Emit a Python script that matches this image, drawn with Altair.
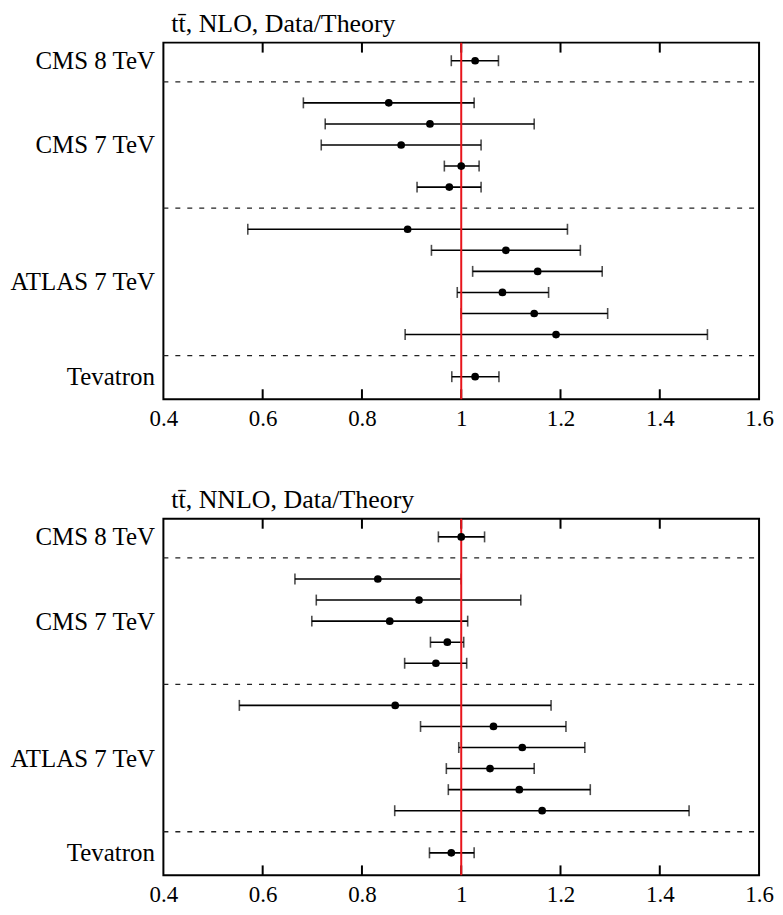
import altair as alt
import pandas as pd

# ---------------- data ----------------
row_pos = [0, 2, 3, 4, 5, 6, 8, 9, 10, 11, 12, 13, 15]
experiment = ["CMS 8 TeV"] + ["CMS 7 TeV"] * 5 + ["ATLAS 7 TeV"] * 6 + ["Tevatron"]

nlo_center = [1.028, 0.854, 0.937, 0.879, 1.000, 0.976, 0.892, 1.090, 1.154, 1.083, 1.147, 1.191, 1.028]
nlo_low = [0.980, 0.682, 0.726, 0.718, 0.966, 0.911, 0.570, 0.940, 1.023, 0.992, 1.000, 0.887, 0.981]
nlo_high = [1.075, 1.026, 1.147, 1.040, 1.036, 1.040, 1.214, 1.240, 1.284, 1.176, 1.295, 1.496, 1.076]

nnlo_center = [1.000, 0.832, 0.915, 0.856, 0.972, 0.949, 0.867, 1.065, 1.123, 1.058, 1.117, 1.163, 0.980]
nnlo_low = [0.954, 0.665, 0.708, 0.699, 0.938, 0.886, 0.553, 0.918, 0.995, 0.970, 0.974, 0.866, 0.936]
nnlo_high = [1.047, 1.000, 1.120, 1.013, 1.005, 1.011, 1.181, 1.211, 1.249, 1.147, 1.260, 1.459, 1.026]

separator_pos = [1, 7, 14]
group_label_pos = [0, 4, 10.5, 15]
group_label_text = ["CMS 8 TeV", "CMS 7 TeV", "ATLAS 7 TeV", "Tevatron"]
x_label_values = [0.4, 0.6, 0.8, 1.0, 1.2, 1.4, 1.6]
inner_tick_values = [0.6, 0.8, 1.0, 1.2, 1.4]
reference_value = [1.0]

titles = ["tt\u0304, NLO, Data/Theory", "tt\u0304, NNLO, Data/Theory"]

W, H = 598, 358
FONT = "Liberation Serif"
FS = 23

x_scale = alt.Scale(domain=[0.4, 1.6], nice=False, zero=False)
y_scale = alt.Scale(domain=[-0.86, 16.07], nice=False, zero=False, reverse=True)

label_expr = ""
for p, t in zip(group_label_pos, group_label_text):
    label_expr += f"datum.value == {p} ? '{t}' : "
label_expr += "''"

x_axis = alt.Axis(values=x_label_values, format=".2~f", ticks=False, domain=False, grid=False,
                  labelFont=FONT, labelFontSize=FS, labelColor="black", labelPadding=8,
                  labelFlush=False, title=None)
y_axis = alt.Axis(values=group_label_pos, labelExpr=label_expr, ticks=False, domain=False,
                  grid=False, labelFont=FONT, labelFontSize=25, labelColor="black",
                  labelPadding=9, labelLimit=300, labelOverlap=False, title=None)


def panel(center, low, high, title):
    df = pd.DataFrame({"pos": row_pos, "exp": experiment, "c": center, "lo": low, "hi": high})
    sep = pd.DataFrame({"pos": separator_pos})
    ref = pd.DataFrame({"v": reference_value})
    ticks = pd.DataFrame({"v": inner_tick_values})

    seps = alt.Chart(sep).mark_rule(color="#222222", strokeWidth=1.3, strokeDash=[5, 7]).encode(
        y=alt.Y("pos:Q", scale=y_scale, axis=y_axis),
        x=alt.value(0), x2=alt.value(W))
    top_ticks = alt.Chart(ticks).mark_rule(color="black", strokeWidth=2).encode(
        x=alt.X("v:Q", scale=x_scale, axis=x_axis), y=alt.value(0), y2=alt.value(10))
    bot_ticks = alt.Chart(ticks).mark_rule(color="black", strokeWidth=2).encode(
        x=alt.X("v:Q", scale=x_scale, axis=x_axis), y=alt.value(H - 10), y2=alt.value(H))
    bars = alt.Chart(df).mark_rule(color="black", strokeWidth=1.6).encode(
        x=alt.X("lo:Q", scale=x_scale, axis=x_axis), x2="hi:Q",
        y=alt.Y("pos:Q", scale=y_scale, axis=y_axis))
    cap_lo = alt.Chart(df).mark_tick(color="black", thickness=1.6, size=11, orient="vertical").encode(
        x=alt.X("lo:Q", scale=x_scale, axis=x_axis), y=alt.Y("pos:Q", scale=y_scale, axis=y_axis))
    cap_hi = alt.Chart(df).mark_tick(color="black", thickness=1.6, size=11, orient="vertical").encode(
        x=alt.X("hi:Q", scale=x_scale, axis=x_axis), y=alt.Y("pos:Q", scale=y_scale, axis=y_axis))
    red = alt.Chart(ref).mark_rule(color="#e8141b", strokeWidth=2).encode(
        x=alt.X("v:Q", scale=x_scale, axis=x_axis), y=alt.value(0), y2=alt.value(H))
    dots = alt.Chart(df).mark_point(filled=True, color="black", opacity=1, size=60, shape="circle").encode(
        x=alt.X("c:Q", scale=x_scale, axis=x_axis), y=alt.Y("pos:Q", scale=y_scale, axis=y_axis))

    return alt.layer(seps, top_ticks, bot_ticks, bars, cap_lo, cap_hi, red, dots).properties(
        width=W, height=H,
        title=alt.TitleParams(text=title, anchor="start", frame="group", font=FONT, fontSize=26,
                              fontWeight="normal", color="black", dx=8, offset=5))


chart = alt.vconcat(
    panel(nlo_center, nlo_low, nlo_high, titles[0]),
    panel(nnlo_center, nnlo_low, nnlo_high, titles[1]),
    spacing=55,
).properties(padding=0).configure(
    background="white",
    view=alt.ViewConfig(stroke="black", strokeWidth=2),
)

chart.save("out.html", embed_options={"renderer": "svg", "actions": False})
